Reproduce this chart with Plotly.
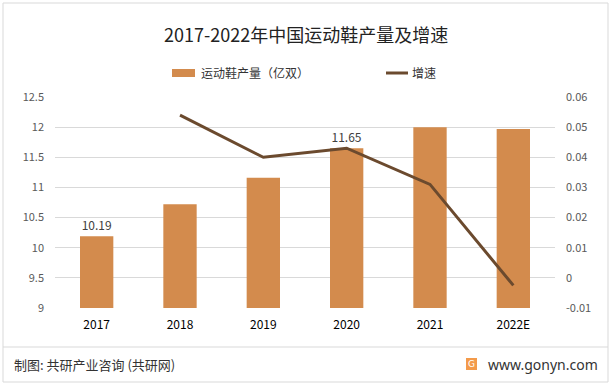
import plotly.graph_objects as go

years = ["2017", "2018", "2019", "2020", "2021", "2022E"]
output = [10.19, 10.72, 11.16, 11.65, 12.00, 11.97]
output_labels = ["10.19", "", "", "11.65", "", ""]
growth_years = ["2018", "2019", "2020", "2021", "2022E"]
growth = [0.054, 0.040, 0.043, 0.031, -0.0025]
left_ticks = [9, 9.5, 10, 10.5, 11, 11.5, 12, 12.5]
left_ticktext = ["9", "9.5", "10", "10.5", "11", "11.5", "12", "12.5"]
right_ticks = [-0.01, 0, 0.01, 0.02, 0.03, 0.04, 0.05, 0.06]
right_ticktext = ["-0.01", "0", "0.01", "0.02", "0.03", "0.04", "0.05", "0.06"]

FONT = "Noto Sans CJK SC"
L, R, T, B = 55, 58, 97, 78
W, H = 613, 386
pw, ph = W - L - R, H - T - B

def px(x):
    return (x - L) / pw

def py(y):
    return (H - B - y) / ph

fig = go.Figure()
fig.add_trace(go.Bar(
    x=years, y=output, name="运动鞋产量（亿双）",
    marker=dict(color="#D38B4D", line=dict(width=0)),
    width=0.4, text=output_labels, textposition="outside",
    textfont=dict(family=FONT, size=12, color="#404040"),
    cliponaxis=False, showlegend=False,
))
fig.add_trace(go.Scatter(
    x=growth_years, y=growth, name="增速", yaxis="y2", mode="lines",
    line=dict(color="#6B4A2E", width=3), showlegend=False,
))

fig.update_layout(
    width=W, height=H,
    margin=dict(l=L, r=R, t=T, b=B),
    paper_bgcolor="white", plot_bgcolor="white",
    font=dict(family=FONT, color="#595959"),
    bargap=0.6,
    xaxis=dict(type="category", showgrid=False, showline=False, ticks="",
               ticklabelstandoff=8,
               tickfont=dict(family=FONT, size=12, color="#000000")),
    yaxis=dict(range=[9, 12.5], tickvals=left_ticks, ticktext=left_ticktext,
               showgrid=True, gridcolor="#D9D9D9", gridwidth=1, zeroline=False,
               showline=False, ticks="", ticklabelstandoff=10,
               tickfont=dict(family=FONT, size=11, color="#595959")),
    yaxis2=dict(range=[-0.01, 0.06], tickvals=right_ticks, ticktext=right_ticktext,
                overlaying="y", side="right", showgrid=False, zeroline=False,
                showline=False, ticks="", ticklabelstandoff=10,
                tickfont=dict(family=FONT, size=11, color="#595959")),
    showlegend=False,
)

shapes = [
    # outer border
    dict(type="rect", xref="paper", yref="paper", x0=px(3), x1=px(608), y0=py(382), y1=py(3),
         line=dict(color="#D9D9D9", width=1), fillcolor="rgba(0,0,0,0)", layer="below"),
    # footer separator
    dict(type="line", xref="paper", yref="paper", x0=px(3), x1=px(608), y0=py(347), y1=py(347),
         line=dict(color="#D9D9D9", width=1)),
    # legend swatches
    dict(type="rect", xref="paper", yref="paper", x0=px(172), x1=px(195), y0=py(77), y1=py(69),
         line=dict(width=0), fillcolor="#D38B4D"),
    dict(type="line", xref="paper", yref="paper", x0=px(386), x1=px(408), y0=py(73), y1=py(73),
         line=dict(color="#6B4A2E", width=3)),
    # logo icon
    dict(type="rect", xref="paper", yref="paper", x0=px(466), x1=px(477), y0=py(370), y1=py(358),
         line=dict(width=0), fillcolor="#F39A4A"),
]
annotations = [
    dict(text="2017-2022年中国运动鞋产量及增速", xref="paper", yref="paper",
         x=px(306), y=py(34), showarrow=False, xanchor="center", yanchor="middle",
         font=dict(family=FONT, size=18, color="#222222")),
    dict(text="运动鞋产量（亿双）", xref="paper", yref="paper", x=px(199), y=py(73),
         showarrow=False, xanchor="left", yanchor="middle",
         font=dict(family=FONT, size=12, color="#333333")),
    dict(text="增速", xref="paper", yref="paper", x=px(410), y=py(73),
         showarrow=False, xanchor="left", yanchor="middle",
         font=dict(family=FONT, size=12, color="#333333")),
    dict(text="制图: 共研产业咨询 (共研网)", xref="paper", yref="paper", x=px(12), y=py(364),
         showarrow=False, xanchor="left", yanchor="middle",
         font=dict(family=FONT, size=13, color="#333333")),
    dict(text="G", xref="paper", yref="paper", x=px(471.5), y=py(364),
         showarrow=False, xanchor="center", yanchor="middle",
         font=dict(family="DejaVu Sans", size=9, color="white")),
    dict(text="www.gonyn.com", xref="paper", yref="paper", x=px(486), y=py(364),
         showarrow=False, xanchor="left", yanchor="middle",
         font=dict(family="Noto Sans", size=14, color="#333333")),
]
fig.update_layout(shapes=shapes, annotations=annotations)

fig.write_html("out.html", config={"displayModeBar": False},
               post_script="document.body.style.margin='0';document.body.style.padding='0';")
